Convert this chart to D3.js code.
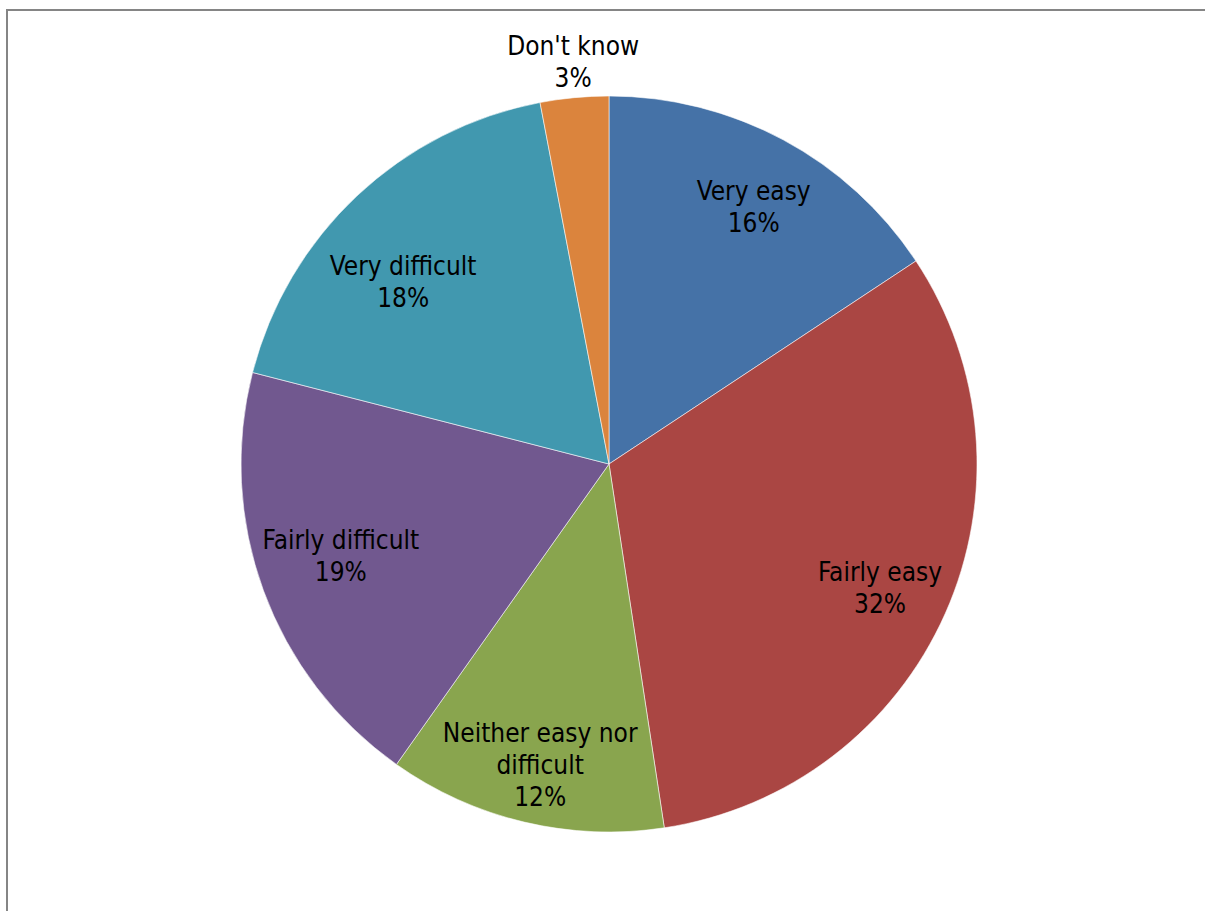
<!DOCTYPE html>
<html>
<head>
<meta charset="utf-8">
<script src="https://cdn.jsdelivr.net/npm/d3@7"></script>
<style>
  html, body { margin: 0; padding: 0; background: #ffffff; }
  svg { display: block; }
  text { font-family: "DejaVu Sans Condensed", "DejaVu Sans", sans-serif; font-stretch: condensed; }
</style>
</head>
<body>
<svg id="chart" width="1205" height="911"></svg>
<script>
const categories = ["Very easy", "Fairly easy", "Neither easy nor difficult", "Fairly difficult", "Very difficult", "Don't know"];
const values = [15.7, 31.9, 12.2, 19.2, 18.0, 3.0];
const valueLabels = ["16%", "32%", "12%", "19%", "18%", "3%"];
const labelLines = [["Very easy"], ["Fairly easy"], ["Neither easy nor", "difficult"], ["Fairly difficult"], ["Very difficult"], ["Don't know"]];
const colors = ["#4572A7", "#AA4643", "#89A54E", "#71588F", "#4198AF", "#DB843D"];

const svg = d3.select("#chart");
const W = 1205, H = 911;

// chart area border
svg.append("rect")
  .attr("x", 7).attr("y", 10)
  .attr("width", W + 10).attr("height", H + 10)
  .attr("fill", "#ffffff")
  .attr("stroke", "#858585").attr("stroke-width", 2);

const cx = 609, cy = 464, R = 368;
const data = categories.map((c, i) => ({ cat: c, value: values[i], label: valueLabels[i], lines: labelLines[i], color: colors[i] }));

const pie = d3.pie().value(d => d.value).sort(null);
const arcs = pie(data);
const arc = d3.arc().innerRadius(0).outerRadius(R);

const g = svg.append("g").attr("transform", `translate(${cx},${cy})`);
g.selectAll("path.slice").data(arcs).join("path")
  .attr("class", "slice")
  .attr("d", arc)
  .attr("fill", d => d.data.color)
  .attr("stroke", "#ffffff").attr("stroke-width", 0.8).attr("stroke-opacity", 0.7);

// label placement: radius as fraction of R, angular nudge in degrees
const labelRadius = [0.802, 0.809, 0.837, 0.77, 0.747, 1.097];
const labelNudge = [1.1, 0.5, -0.4, 1.3, -5.3, 0.3];
const fontSize = 26, lineH = 32;
arcs.forEach((a, i) => {
  const mid = (a.startAngle + a.endAngle) / 2 + labelNudge[i] * Math.PI / 180;
  const r = R * labelRadius[i];
  const x = Math.sin(mid) * r, y = -Math.cos(mid) * r;
  const lines = a.data.lines.concat([a.data.label]);
  const t = g.append("text")
    .attr("text-anchor", "middle")
    .attr("font-size", fontSize)
    .attr("fill", "#000000");
  const y0 = y - (lines.length - 1) * lineH / 2 + fontSize * 0.36;
  lines.forEach((ln, k) => {
    t.append("tspan").attr("x", x).attr("y", y0 + k * lineH).text(ln);
  });
});
</script>
</body>
</html>
